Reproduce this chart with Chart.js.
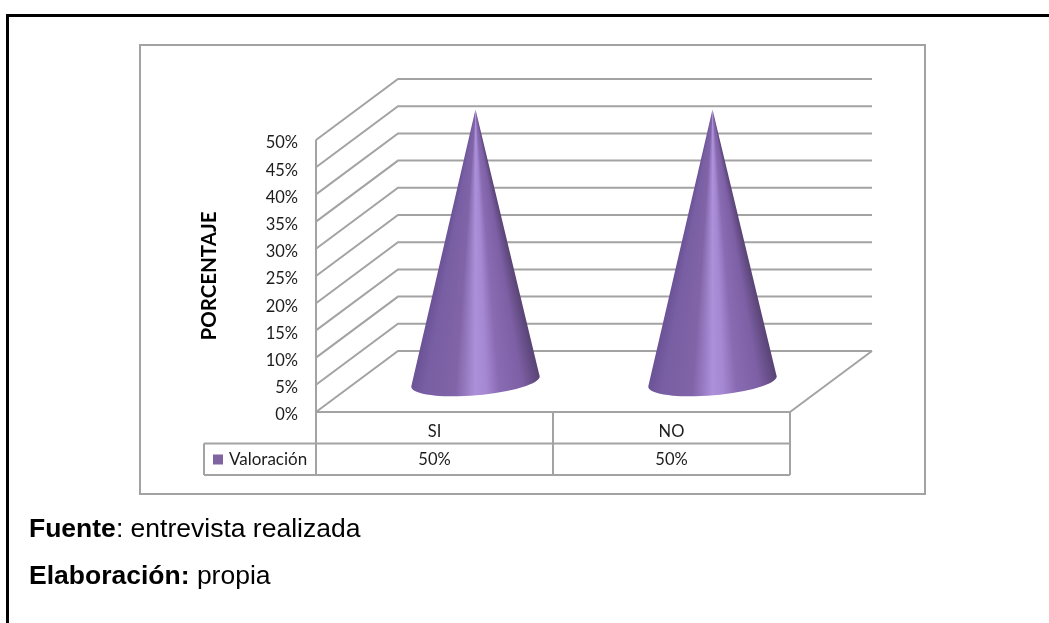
<!DOCTYPE html>
<html lang="es">
<head>
<meta charset="utf-8">
<title>Valoración</title>
<script src="https://cdn.jsdelivr.net/npm/chart.js@4"></script>
<style>
    html, body { margin: 0; padding: 0; background: #fff; }
    body { position: relative; width: 1049px; height: 623px; overflow: hidden; }
    #page-top { position: absolute; left: 6px; right: 0; top: 14px; height: 3px; background: #000; }
    #page-left { position: absolute; left: 6px; top: 14px; bottom: 0; width: 3px; background: #000; }
    #frame { position: absolute; left: 139px; top: 44px; width: 783px; height: 447px; border: 2px solid #a2a2a2; }
    canvas { position: absolute; left: 0; top: 0; }
    .nota { position: absolute; left: 29px; font: 26.5px "Liberation Sans", Arial, sans-serif; color: #000; white-space: nowrap; }
</style>
</head>
<body>
<div id="page-top"></div>
<div id="page-left"></div>
<div id="frame"></div>
<canvas id="conos" width="1049" height="623"></canvas>
<div class="nota" style="top:513px"><b>Fuente</b>: entrevista realizada</div>
<div class="nota" style="top:560px"><b>Elaboración:</b> propia</div>

<script>
    // --- 1. DATOS ---
    const categorias = ['SI', 'NO'];
    const valores = [50, 50];
    const nombreSerie = 'Valoración';
    const tituloEjeY = 'PORCENTAJE';
    const pasoEjeY = 5;
    const maxEjeY = 50;

    // --- 2. ESTILO ---
    const COLOR_LINEA = '#a3a3a3';
    const COLOR_SERIE = '#8064a2';
    const COLOR_TEXTO = '#1c1c1c';
    const FUENTE = 'Lato, "Open Sans", sans-serif';
    // desplazamiento de la pared del fondo respecto al plano frontal
    const FONDO_X = 82;
    const FONDO_Y = -61;
    const ALTO_FILA = 31.5;
    const INICIO_LEYENDA = 204;

    // sombreado del cono: posición sobre la base (0 izquierda, 1 derecha) y color
    const rampa = [
        [0, '#6a5094'], [0.12, '#785ea3'], [0.35, '#8164a8'], [0.5, '#ac90da'],
        [0.58, '#a588d2'], [0.68, '#886bb2'], [0.86, '#7c5fa4'], [1, '#5a4476']
    ];

    // --- 3. PLUGIN: CAJA 3D, TABLA DE DATOS Y CONOS ---

    function linea(ctx, puntos) {
        ctx.beginPath();
        puntos.forEach(([x, y], i) => i ? ctx.lineTo(x, y) : ctx.moveTo(x, y));
        ctx.stroke();
    }

    function dibujarCaja(chart) {
        const { ctx, scales: { x, y } } = chart;
        const izq = x.left, der = x.right, base = y.getPixelForValue(0);
        ctx.strokeStyle = COLOR_LINEA;
        ctx.lineWidth = 2;
        y.ticks.forEach(t => {
            const py = y.getPixelForValue(t.value);
            linea(ctx, [[izq, py], [izq + FONDO_X, py + FONDO_Y], [der + FONDO_X, py + FONDO_Y]]);
        });
        // suelo
        linea(ctx, [[der + FONDO_X, base + FONDO_Y], [der, base]]);
        linea(ctx, [[izq, base], [der, base]]);
        // eje vertical, llega hasta abajo de la tabla
        linea(ctx, [[izq, y.getPixelForValue(maxEjeY)], [izq, base + 2 * ALTO_FILA]]);
    }

    function dibujarTabla(chart) {
        const { ctx, scales: { x, y } } = chart;
        const der = x.right, base = y.getPixelForValue(0);
        const fila1 = base + ALTO_FILA, fila2 = base + 2 * ALTO_FILA;
        ctx.strokeStyle = COLOR_LINEA;
        ctx.lineWidth = 2;
        linea(ctx, [[INICIO_LEYENDA, fila1], [der, fila1]]);
        linea(ctx, [[INICIO_LEYENDA, fila2], [der, fila2]]);
        linea(ctx, [[INICIO_LEYENDA, fila1], [INICIO_LEYENDA, fila2]]);
        linea(ctx, [[der, base], [der, fila2]]);
        const sep = (x.getPixelForValue(0) + x.getPixelForValue(1)) / 2;
        linea(ctx, [[sep, base], [sep, fila2]]);

        ctx.fillStyle = COLOR_TEXTO;
        ctx.font = '16.5px ' + FUENTE;
        ctx.textAlign = 'center';
        ctx.textBaseline = 'middle';
        valores.forEach((v, i) => ctx.fillText(v + '%', x.getPixelForValue(i), (fila1 + fila2) / 2));

        ctx.fillStyle = COLOR_SERIE;
        ctx.fillRect(INICIO_LEYENDA + 9, fila1 + 11, 10, 10);
        ctx.fillStyle = COLOR_TEXTO;
        ctx.font = '17px ' + FUENTE;
        ctx.textAlign = 'left';
        ctx.fillText(nombreSerie, INICIO_LEYENDA + 25, (fila1 + fila2) / 2);
    }

    // cada cono sale de la barra correspondiente, centrado a media profundidad
    function dibujarCono(ctx, barra) {
        const cx = barra.x + FONDO_X / 2;
        const cy = barra.base + FONDO_Y / 2;
        const apiceY = barra.y + FONDO_Y / 2;
        const rx = barra.width / 2;
        const ry = rx * 0.215;
        const giro = -0.085;

        // el degradado gira alrededor del ápice, así las franjas convergen en la punta
        const degradado = ctx.createConicGradient(0, cx, apiceY);
        [...rampa].reverse().forEach(([s, color]) => {
            const angulo = Math.atan2(cy - apiceY, rx * (2 * s - 1));
            degradado.addColorStop(angulo / (2 * Math.PI), color);
        });

        ctx.fillStyle = degradado;
        ctx.beginPath();
        ctx.moveTo(cx, apiceY);
        ctx.ellipse(cx, cy, rx, ry, giro, -0.1, Math.PI + 0.1);
        ctx.closePath();
        ctx.fill();
    }

    const pluginConos = {
        id: 'conos',
        beforeDatasetsDraw(chart) {
            chart.ctx.save();
            dibujarCaja(chart);
            dibujarTabla(chart);
            chart.ctx.restore();
        },
        afterDatasetsDraw(chart) {
            chart.ctx.save();
            chart.getDatasetMeta(0).data.forEach(barra => dibujarCono(chart.ctx, barra));
            chart.ctx.restore();
        }
    };

    // --- 4. GRÁFICO ---

    new Chart(document.getElementById('conos').getContext('2d'), {
        type: 'bar',
        data: {
            labels: categorias,
            datasets: [{
                label: nombreSerie,
                data: valores,
                backgroundColor: 'transparent',
                categoryPercentage: 1,
                barPercentage: 0.544
            }]
        },
        options: {
            responsive: false,
            animation: false,
            layout: { padding: { left: 195, top: 140, right: 259, bottom: 0 } },
            plugins: { legend: { display: false }, tooltip: { enabled: false } },
            scales: {
                x: {
                    grid: { display: false, drawTicks: false },
                    border: { display: false },
                    ticks: { color: COLOR_TEXTO, font: { family: FUENTE, size: 16.5 }, padding: 10, maxRotation: 0 },
                    afterFit(escala) { escala.height = 211; }
                },
                y: {
                    min: 0,
                    max: maxEjeY,
                    grid: { display: false, drawTicks: false },
                    border: { display: false },
                    ticks: {
                        stepSize: pasoEjeY,
                        color: COLOR_TEXTO,
                        font: { family: FUENTE, size: 16.5 },
                        padding: 18,
                        labelOffset: 3,
                        callback: v => v + '%'
                    },
                    title: {
                        display: true,
                        text: tituloEjeY,
                        color: '#000',
                        font: { family: FUENTE, size: 20.5, weight: 'bold' },
                        padding: { top: 2, bottom: 0 }
                    },
                    afterFit(escala) { escala.width = 121; }
                }
            }
        },
        plugins: [pluginConos]
    });
</script>
</body>
</html>
